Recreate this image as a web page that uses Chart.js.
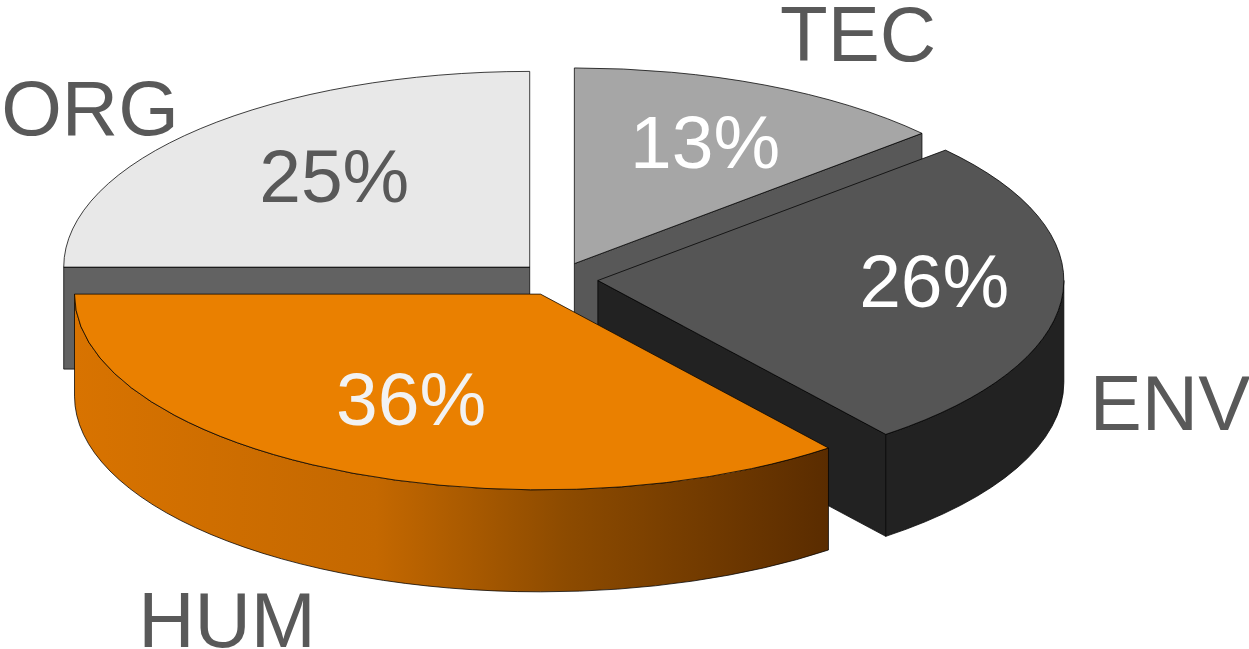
<!DOCTYPE html>
<html>
<head>
<meta charset="utf-8">
<script src="https://cdn.jsdelivr.net/npm/chart.js@4.4.1/dist/chart.umd.min.js"></script>
<style>
  html, body { margin: 0; padding: 0; background: #fff; }
  #grafica { display: block; }
</style>
</head>
<body>
<canvas id="grafica" width="1249" height="649"></canvas>
<script>
const categorias = ["TEC", "ENV", "HUM", "ORG"];
const porcentajes = [13.4, 26, 35.6, 25];

// colores: cara superior, paredes y color del texto del porcentaje
const colorTapa = ["#a6a6a6", "#555555", "#ea8000", "#e8e8e8"];
const colorPared = ["#585858", "#222222", "#c46800", "#626262"];
const colorTexto = ["#ffffff", "#ffffff", "#f2f2f2", "#595959"];

// aspecto 3D
const inclinacion = 0.42;   // aplastado vertical de la elipse
const grosor = 102;         // alto de la "torta"
const separacion = 40;      // explode de cada porcion
// posicion de los nombres respecto al centro
const posNombres = [[300, -218], [612, 151], [-331, 368], [-468, -144]];
// pequeno ajuste a mano de los porcentajes
const ajustePct = [[5, -5], [30, -12], [5, -12], [22, -1]];

function norm(a) {
  while (a < 0) a += Math.PI * 2;
  while (a >= Math.PI * 2) a -= Math.PI * 2;
  return a;
}

// pinta una porcion en 3D usando la geometria que calcula Chart.js
function pintarPorcion(ctx, arc, i) {
  const k = inclinacion;
  const { x, y, startAngle, endAngle, outerRadius } = arc.getProps(["x", "y", "startAngle", "endAngle", "outerRadius"], true);
  const off = arc.options.offset || 0;
  const mid = (startAngle + endAngle) / 2;
  const cx = x + Math.cos(mid) * off;
  const cy = y + Math.sin(mid) * off * k;
  const R = outerRadius;
  const Ry = R * k;
  const pt = a => [cx + Math.cos(a) * R, cy + Math.sin(a) * Ry];

  ctx.lineWidth = 1;
  ctx.strokeStyle = "rgba(0,0,0,0.75)";
  ctx.lineJoin = "round";

  // caras de corte (radiales) visibles
  [[startAngle, startAngle - Math.PI / 2], [endAngle, endAngle + Math.PI / 2]].forEach(([a, n]) => {
    if (Math.sin(n) <= 0.01) return;
    const p = pt(a);
    ctx.beginPath();
    ctx.moveTo(cx, cy);
    ctx.lineTo(p[0], p[1]);
    ctx.lineTo(p[0], p[1] + grosor);
    ctx.lineTo(cx, cy + grosor);
    ctx.closePath();
    ctx.fillStyle = colorPared[i];
    ctx.fill();
    ctx.stroke();
  });

  // pared exterior (solo la mitad de adelante)
  const a1 = norm(startAngle);
  const a2 = a1 + (endAngle - startAngle);
  const tramos = [];
  [[0, Math.PI], [Math.PI * 2, Math.PI * 3]].forEach(([lo, hi]) => {
    const s = Math.max(a1, lo), e = Math.min(a2, hi);
    if (e - s > 0.001) tramos.push([s, e]);
  });
  tramos.forEach(([s, e]) => {
    ctx.beginPath();
    ctx.ellipse(cx, cy, R, Ry, 0, s, e, false);
    ctx.ellipse(cx, cy + grosor, R, Ry, 0, e, s, true);
    ctx.closePath();
    if (categorias[i] === "HUM") {
      const g = ctx.createLinearGradient(cx - R, 0, pt(s)[0], 0);
      g.addColorStop(0, "#d87300");
      g.addColorStop(0.4, "#c46800");
      g.addColorStop(0.65, "#8d4b00");
      g.addColorStop(1, "#5a2c00");
      ctx.fillStyle = g;
    } else {
      ctx.fillStyle = colorPared[i];
    }
    ctx.fill();
    ctx.stroke();
  });

  // cara superior
  ctx.beginPath();
  ctx.moveTo(cx, cy);
  ctx.ellipse(cx, cy, R, Ry, 0, startAngle, endAngle, false);
  ctx.closePath();
  ctx.fillStyle = arc.options.backgroundColor;
  ctx.fill();
  ctx.stroke();

  // porcentaje
  const f = 0.66;
  const tam = 75;
  ctx.font = tam + "px 'Liberation Sans', Arial, sans-serif";
  ctx.textAlign = "center";
  ctx.textBaseline = "alphabetic";
  ctx.fillStyle = colorTexto[i];
  const tx = cx + Math.cos(mid) * R * f + ajustePct[i][0];
  const ty = cy + Math.sin(mid) * Ry * f + ajustePct[i][1];
  ctx.fillText(Math.round(porcentajes[i]) + "%", tx, ty + tam * 0.36);
}

const torta3d = {
  id: "torta3d",
  beforeDatasetsDraw(chart) {
    const ctx = chart.ctx;
    const meta = chart.getDatasetMeta(0);
    // de atras hacia adelante
    const orden = meta.data.map((arc, i) => {
      const m = (arc.startAngle + arc.endAngle) / 2;
      return { i, prof: Math.sin(m) };
    }).sort((a, b) => a.prof - b.prof);
    ctx.save();
    orden.forEach(o => pintarPorcion(ctx, meta.data[o.i], o.i));
    ctx.restore();

    // nombres de las categorias
    const c = meta.data[0];
    ctx.save();
    ctx.font = "78px 'Liberation Sans', Arial, sans-serif";
    ctx.fillStyle = "#595959";
    ctx.textAlign = "center";
    ctx.textBaseline = "alphabetic";
    categorias.forEach((nombre, i) => {
      ctx.fillText(nombre, c.x + posNombres[i][0], c.y + posNombres[i][1]);
    });
    ctx.restore();
    return false;
  }
};

new Chart(document.getElementById("grafica"), {
  type: "pie",
  data: {
    labels: categorias,
    datasets: [{
      data: porcentajes,
      backgroundColor: colorTapa,
      borderWidth: 0,
      offset: separacion,
      radius: 466
    }]
  },
  options: {
    responsive: false,
    animation: false,
    layout: { padding: { right: 133, bottom: 91 } },
    plugins: {
      legend: { display: false },
      tooltip: { enabled: false }
    }
  },
  plugins: [torta3d]
});
</script>
</body>
</html>
